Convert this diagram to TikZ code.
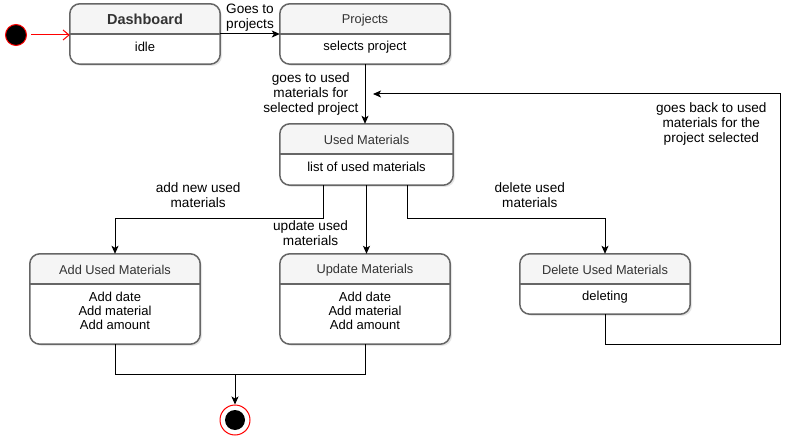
\documentclass[tikz,border=0pt]{standalone}
\usepackage{fontspec}
\setmainfont{Liberation Sans}
\usetikzlibrary{arrows.meta,positioning,calc,shadows}
\definecolor{boxline}{HTML}{666666}
\definecolor{headfill}{HTML}{F5F5F5}
\definecolor{headtext}{HTML}{333333}
\definecolor{initred}{HTML}{FF0000}

\begin{document}
\begin{tikzpicture}[x=1pt,y=-1pt,
statebox/.style={fill=white,rounded corners=10pt,minimum width=170pt,minimum height=60pt,inner sep=0pt,drop shadow={shadow xshift=2pt,shadow yshift=-2pt,opacity=0.2}},
titletext/.style={font=\fontsize{12.8}{14.5}\selectfont,text=headtext,inner sep=1pt},
bodytext/.style={font=\fontsize{13}{14}\selectfont,align=center,inner sep=1pt},
edgelabel/.style={font=\fontsize{13.6}{14.8}\selectfont,align=center,inner sep=1pt},
arr/.style={-{Stealth[length=8pt,width=7pt,inset=2pt]},line width=1pt},
plain/.style={line width=1pt}]
\useasboundingbox (0,0) rectangle (800,446);
\node[circle,fill=black,draw=initred,line width=1pt,minimum size=21pt,inner sep=0pt] (init) at (16,35) {};
\node[statebox,minimum width=150pt] (dash) at (145,34) {};
\node[statebox] (proj) at (365,34) {};
\node[statebox,minimum width=173pt,minimum height=61pt] (used) at (366.5,154.5) {};
\node[statebox,minimum height=90pt] (addm) at (115,299) {};
\node[statebox,minimum height=90pt] (updm) at (365,299) {};
\node[statebox] (delm) at (605,284) {};
\foreach \n in {dash,proj,used,addm,updm,delm}{
  \fill[headfill,rounded corners=10pt] (\n.north west) rectangle ([yshift=-30pt]\n.north east);
  \fill[headfill] ([yshift=-15pt]\n.north west) rectangle ([yshift=-30pt]\n.north east);
  \draw[boxline,line width=1.5pt] ([yshift=-30pt]\n.north west) -- ([yshift=-30pt]\n.north east);
  \draw[boxline,line width=1.5pt,rounded corners=10pt] (\n.north west) rectangle (\n.south east);
}
\node[titletext,font=\fontsize{14.5}{16}\selectfont\bfseries] (dasht) at ([yshift=-16pt]dash.north) {Dashboard};
\node[bodytext] (dashb) at ([yshift=-43pt]dash.north) {idle};
\node[titletext] (projt) at ([yshift=-16pt]proj.north) {Projects};
\node[bodytext] (projb) at ([yshift=-43pt]proj.north) {selects project};
\node[titletext] (usedt) at ([yshift=-16pt]used.north) {Used Materials};
\node[bodytext] (usedb) at ([yshift=-43pt]used.north) {list of used materials};
\node[titletext] (addmt) at ([yshift=-16pt]addm.north) {Add Used Materials};
\node[bodytext] (addmb) at ([yshift=-57pt]addm.north) {Add date\\Add material\\Add amount};
\node[titletext] (updmt) at ([yshift=-16pt]updm.north) {Update Materials};
\node[bodytext] (updmb) at ([yshift=-57pt]updm.north) {Add date\\Add material\\Add amount};
\node[titletext] (delmt) at ([yshift=-16pt]delm.north) {Delete Used Materials};
\node[bodytext] (delmb) at ([yshift=-43pt]delm.north) {deleting};
\node[circle,draw=initred,fill=white,line width=1pt,minimum size=30pt,inner sep=0pt] (endst) at (235,420) {};
\node[circle,fill=black,minimum size=20pt,inner sep=0pt] (endin) at (endst) {};
\coordinate (merge) at (235,374);
\coordinate (backturn) at (780,94);
\coordinate (backin) at (373,94);
\draw[-{Straight Barb[length=6pt,width=10pt]},initred,line width=1pt,shorten <=4pt] (init) -- (dash.west |- init);
\draw[arr] (dash.east)--node[edgelabel,above=1pt]{Goes to\\projects}(proj.west);
\draw[arr] (proj.south)--node[edgelabel,left=5pt]{goes to used\\materials for\\selected project}(proj.south |- used.north);
\draw[arr] ([xshift=-43.5pt]used.south)--++(0,33)-|node[pos=0.3,above=9pt,edgelabel]{add new used\\materials}(addm.north);
\draw[arr] (used.south)--node[pos=0.7,left=17pt,edgelabel]{update used\\materials}(used.south |- updm.north);
\draw[arr] ([xshift=40.5pt]used.south)--++(0,33)-|node[pos=0.31,above=9pt,edgelabel]{delete used\\materials}(delm.north);
\draw[arr] (delm.south)--++(0,30)-|node[pos=0.94,left=12pt,edgelabel]{goes back to used\\materials for the\\project selected}(backturn)--(backin);
\draw[plain] (addm.south)--++(0,30)-|(updm.south);
\draw[arr] (merge)--(endst.north);
\end{tikzpicture}
\end{document}
